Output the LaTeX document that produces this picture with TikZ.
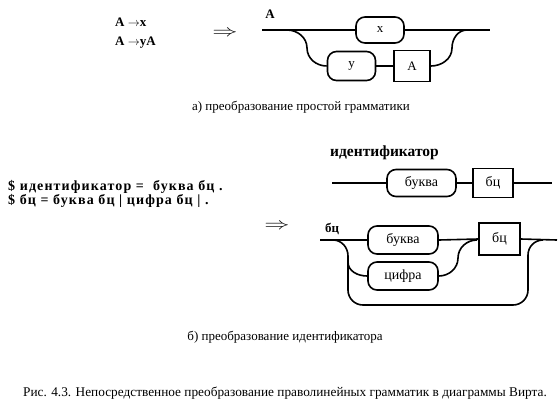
\documentclass[tikz,border=0pt]{standalone}
\usepackage{fontspec}
\usepackage{graphicx}
\setmainfont{Liberation Serif}
\begin{document}
\begin{tikzpicture}[x=1pt,y=-1pt,
  ln/.style={line width=1.6pt},
  term/.style={draw,line width=1.6pt,rounded corners=9pt,minimum width=48pt,minimum height=26pt,inner sep=0pt,font=\fontsize{13}{15}\selectfont},
  nterm/.style={draw,line width=1.6pt,minimum height=30pt,inner sep=0pt,font=\fontsize{13}{15}\selectfont},
  txt/.style={inner sep=0pt,font=\fontsize{13}{15}\selectfont},
  btxt/.style={inner sep=0pt,font=\fontsize{13}{15}\selectfont\bfseries},
  arr/.style={inner sep=0pt,font=\fontsize{12}{14}\selectfont}]
\useasboundingbox (0,0) rectangle (560,416);
% ---- part a
\node[btxt,anchor=west] (r1) at (115,22) {A $\rightarrow$x};
\node[btxt,anchor=west] (r2) at (115,43) {A $\rightarrow$yA};
\node[arr] (ar1) at (225,33) {\scalebox{2.1}[1.4]{$\Rightarrow$}};
\node[btxt] (lA) at (270,14) {A};
\coordinate (a0) at (262,30);
\coordinate (a1) at (490,30);
\node[term] (nx) at (380,30) {x};
\node[term,minimum height=29pt] (ny) at (351.5,66) {y};
\node[nterm,minimum width=36pt,minimum height=31pt] (nA) at (412,66) {A};
\coordinate (s1) at (287,30);
\coordinate (j1) at (467,30);
\draw[ln] (a0) -- (nx.west);
\draw[ln] (nx.east) -- (a1);
\draw[ln] (s1) to[out=0,in=90] (307,48) to[out=-90,in=180] (ny.west);
\draw[ln] (ny.east) -- (nA.west);
\draw[ln] (nA.east) to[out=0,in=-90] (452,48) to[out=90,in=180] (j1);
\node[txt] (capa) at (301,107) {а) преобразование простой грамматики};
% ---- part b
\node[btxt,anchor=west,font=\fontsize{14}{15}\selectfont\bfseries\addfontfeature{LetterSpace=8}] (g1) at (8,187) {\$ идентификатор =\ \ буква бц .};
\node[btxt,anchor=west,font=\fontsize{14}{15}\selectfont\bfseries\addfontfeature{LetterSpace=8}] (g2) at (8,201) {\$ бц = буква бц | цифра бц | .};
\node[arr] (ar2) at (277,226) {\scalebox{2.1}[1.4]{$\Rightarrow$}};
\node[btxt,anchor=west,font=\fontsize{15.5}{17}\selectfont\bfseries] (lid) at (330,153) {идентификатор};
\coordinate (b0) at (332,183);
\coordinate (b1) at (552,183);
\node[term,minimum width=69pt,minimum height=27pt,font=\fontsize{14}{16}\selectfont] (bk1) at (421.5,183) {буква};
\node[nterm,minimum width=40pt,minimum height=29pt,font=\fontsize{14}{16}\selectfont] (bc1) at (493,183) {бц};
\draw[ln] (b0) -- (bk1.west);
\draw[ln] (bk1.east) -- (bc1.west);
\draw[ln] (bc1.east) -- (b1);
\node[btxt,anchor=west] (lbc) at (325,229) {бц};
\coordinate (c0) at (320,240);
\coordinate (c1) at (557,240);
\node[term,minimum width=70pt,minimum height=28pt,font=\fontsize{14}{16}\selectfont] (bk2) at (403,240) {буква};
\node[term,minimum width=70pt,minimum height=28pt,font=\fontsize{14}{16}\selectfont] (cf) at (403,276) {цифра};
\node[nterm,minimum width=41pt,minimum height=32pt,font=\fontsize{14}{16}\selectfont] (bc2) at (499.5,239) {бц};
\coordinate (s2) at (333,240);
\coordinate (j2) at (477,240);
\coordinate (j3) at (543,240);
\draw[ln] (c0) -- (bk2.west);
\draw[ln] (bk2.east) -- (bc2.west);
\draw[ln] (bc2.east) -- (c1);
\draw[ln] (s2) to[out=0,in=90] (348,256) -- (348,262) to[out=-90,in=180] (cf.west);
\draw[ln] (348,256) -- (348,290) to[out=-90,in=180] (363,305) -- (513,305) to[out=0,in=-90] (528,290) -- (528,255) to[out=90,in=180] (j3);
\draw[ln] (cf.east) to[out=0,in=-90] (458,258) to[out=90,in=180] (j2);
\node[txt] (capb) at (285,337) {б) преобразование идентификатора};
\node[txt,font=\fontsize{13.3}{15}\selectfont] (cap) at (285,393) {Рис. 4.3. Непосредственное преобразование праволинейных грамматик в диаграммы Вирта.};
\end{tikzpicture}
\end{document}
